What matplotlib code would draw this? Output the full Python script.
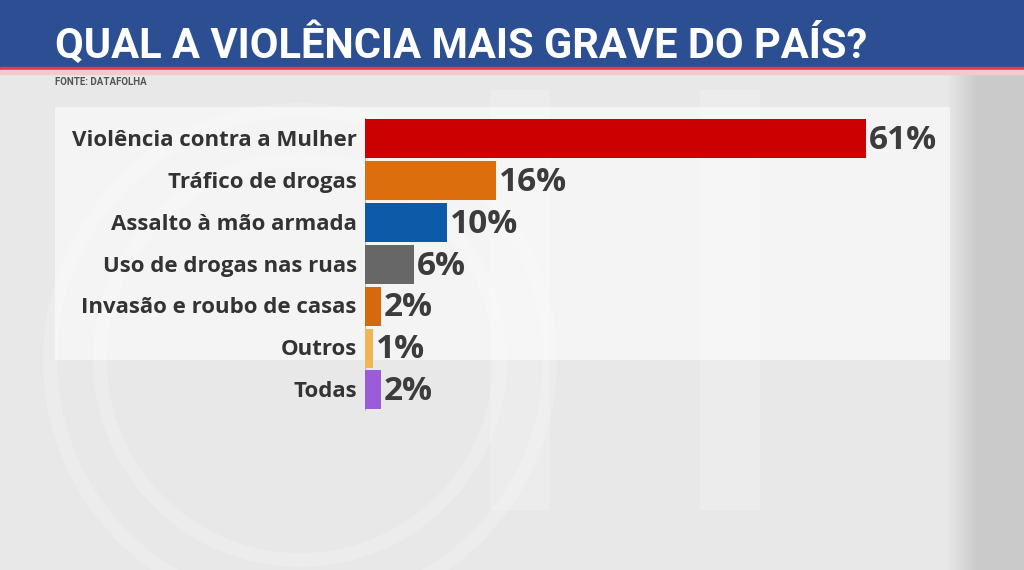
import matplotlib.pyplot as plt
import matplotlib.patches as mpatches
import numpy as np

categories = ["Violência contra a Mulher", "Tráfico de drogas", "Assalto à mão armada",
              "Uso de drogas nas ruas", "Invasão e roubo de casas", "Outros", "Todas"]
values = [61, 16, 10, 6, 2, 1, 2]
bar_colors = ["#CC0000", "#DC6E0E", "#0D5BA8", "#676767", "#D4690E", "#F0B555", "#9B5CD9"]

title = "QUAL A VIOLÊNCIA MAIS GRAVE DO PAÍS?"
source = "FONTE: DATAFOLHA"

W, H = 1024, 570
fig = plt.figure(figsize=(W / 100, H / 100), dpi=100)

# background layer in pixel coordinates
bg = fig.add_axes([0, 0, 1, 1])
bg.set_xlim(0, W)
bg.set_ylim(H, 0)
bg.axis("off")

xs = np.linspace(0, 1, 512)
shade = 0.91 - 0.12 * np.clip((xs - 0.925) / 0.03, 0, 1)
bg.imshow(np.tile(shade, (2, 1)), cmap="gray", vmin=0, vmax=1,
          extent=[0, W, H, 0], aspect="auto", zorder=0)

# faint ghost of a big logo behind the chart
for r in [250, 200]:
    bg.add_patch(mpatches.Circle((300, 360), r, fill=False, ec="white", lw=10, alpha=0.2, zorder=0.5))
bg.add_patch(mpatches.Rectangle((490, 90), 60, 420, color="white", alpha=0.18, lw=0, zorder=0.5))
bg.add_patch(mpatches.Rectangle((700, 90), 60, 420, color="white", alpha=0.18, lw=0, zorder=0.5))

# header
bg.add_patch(mpatches.Rectangle((0, 0), W, 67, color="#2C4F93", zorder=1))
bg.add_patch(mpatches.Rectangle((0, 67), W, 3, color="#D9404A", zorder=1))
bg.add_patch(mpatches.Rectangle((0, 70), W, 4, color="#F2C9CC", zorder=1))
bg.text(55, 45, title, color="white", fontsize=30, fontweight="bold",
        family=["Roboto", "DejaVu Sans"], va="center", ha="left", zorder=2)
bg.text(55, 82, source, color="#555555", fontsize=7, fontweight="bold",
        family=["Roboto", "DejaVu Sans"], va="center", ha="left", zorder=2)

# white panel
bg.add_patch(mpatches.Rectangle((55, 107), 895, 253, color="white", alpha=0.55, lw=0, zorder=1))

# bar chart axes
px_per_unit = 501 / 61
left_px, top_px, row_px = 365, 118, 41.83
ax = fig.add_axes([left_px / W, 1 - (top_px + 7 * row_px) / H,
                   (W - left_px) / W, 7 * row_px / H])
ax.set_xlim(0, (W - left_px) / px_per_unit)
ax.set_ylim(6.5, -0.5)
ax.patch.set_alpha(0)
for s in ax.spines.values():
    s.set_visible(False)
ax.set_xticks([])
ax.set_yticks([])
ax.axvline(0, color="#BBBBBB", lw=0.8, zorder=1)

y = np.arange(len(categories))
ax.barh(y, values, height=0.93, color=bar_colors, zorder=2)

for yi, cat, v in zip(y, categories, values):
    ax.text(-1.0, yi + 0.04, cat, ha="right", va="center", fontsize=16, fontweight="bold",
            color="#333333", family="Open Sans")
    ax.text(v + 0.3, yi + 0.04, f"{v}%", ha="left", va="center", fontsize=24,
            fontweight="bold", color="#3C3C3C", family="Open Sans")

fig.savefig("out.png", dpi=100)
